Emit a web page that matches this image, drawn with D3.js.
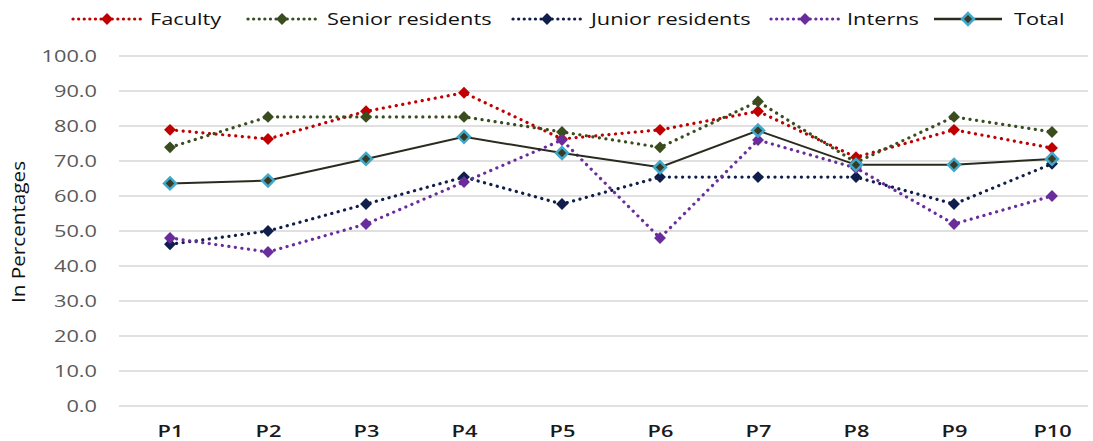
<!DOCTYPE html>
<html>
<head>
<meta charset="utf-8">
<script src="https://cdn.jsdelivr.net/npm/d3@7"></script>
<style>
  body { margin: 0; background: #fff; }
  svg { display: block; }
</style>
</head>
<body>
<div id="chart"></div>
<script>
const categories = ['P1', 'P2', 'P3', 'P4', 'P5', 'P6', 'P7', 'P8', 'P9', 'P10'];
const faculty = [78.9, 76.3, 84.2, 89.5, 76.3, 78.9, 84.2, 71.1, 78.9, 73.7];
const seniorResidents = [73.9, 82.6, 82.6, 82.6, 78.3, 73.9, 87.0, 69.6, 82.6, 78.3];
const juniorResidents = [46.2, 50.0, 57.7, 65.4, 57.7, 65.4, 65.4, 65.4, 57.7, 69.2];
const interns = [48.0, 44.0, 52.0, 64.0, 76.0, 48.0, 76.0, 68.0, 52.0, 60.0];
const total = [63.6, 64.4, 70.6, 76.9, 72.3, 68.2, 78.7, 68.9, 68.9, 70.6];
const yTicks = [0, 10, 20, 30, 40, 50, 60, 70, 80, 90, 100];

const series = [
  { name: 'Faculty', values: faculty, color: '#c00000', dotted: true },
  { name: 'Senior residents', values: seniorResidents, color: '#3a4d1f', dotted: true },
  { name: 'Junior residents', values: juniorResidents, color: '#0f1e4a', dotted: true },
  { name: 'Interns', values: interns, color: '#6a2c9c', dotted: true },
  { name: 'Total', values: total, color: '#2b2a1e', dotted: false, marker: '#3fa9c9' }
];

const W = 1093, H = 441;
const plot = { top: 56, bottom: 406 };
// the whole picture looks stretched sideways, so text gets a horizontal scale
const stretch = 1.28;
const font = '"Open Sans", sans-serif';

const svg = d3.select('#chart').append('svg')
    .attr('width', W)
    .attr('height', H);

const x = d3.scalePoint()
    .domain(categories)
    .range([170, 1052]);

const y = d3.scaleLinear()
    .domain([0, 100])
    .range([plot.bottom, plot.top]);

// gridlines
svg.append('g')
    .selectAll('line')
    .data(yTicks)
    .join('line')
    .attr('x1', 119)
    .attr('x2', 1088)
    .attr('y1', d => y(d))
    .attr('y2', d => y(d))
    .attr('stroke', '#d6d6d6')
    .attr('stroke-width', 1.5);

// y axis labels
const yAxis = d3.axisLeft(y)
    .tickValues(yTicks)
    .tickFormat(d3.format('.1f'))
    .tickSize(0)
    .tickPadding(0);

svg.append('g')
    .attr('transform', 'translate(97,0)')
    .call(yAxis)
    .call(g => g.select('.domain').remove())
    .selectAll('text')
    .attr('font-family', font)
    .attr('font-size', 17)
    .attr('fill', '#595959')
    .attr('transform', `scale(${stretch},1)`);

// x axis labels
const xAxis = d3.axisBottom(x).tickSize(0).tickPadding(0);
svg.append('g')
    .attr('transform', 'translate(0,425)')
    .call(xAxis)
    .call(g => g.select('.domain').remove())
    .selectAll('text')
    .attr('font-family', font)
    .attr('font-size', 17)
    .attr('font-weight', 600)
    .attr('fill', '#1a1a1a')
    .attr('transform', `scale(${stretch},1)`);

// y title
svg.append('text')
    .attr('transform', 'translate(25,232) rotate(-90) scale(1.15,1)')
    .attr('text-anchor', 'middle')
    .attr('font-family', font)
    .attr('font-size', 18)
    .attr('fill', '#111')
    .text('In Percentages');

const line = d3.line()
    .x((d, i) => x(categories[i]))
    .y(d => y(d));

const diamond = d3.symbol().type(d3.symbolDiamond2).size(90);

series.forEach(s => {
  const g = svg.append('g');
  g.append('path')
      .datum(s.values)
      .attr('d', line)
      .attr('fill', 'none')
      .attr('stroke', s.color)
      .attr('stroke-width', s.dotted ? 3.2 : 2)
      .attr('stroke-linecap', s.dotted ? 'round' : 'butt')
      .attr('stroke-dasharray', s.dotted ? '0.1,6.5' : null);
  g.selectAll('path.mk')
      .data(s.values)
      .join('path')
      .attr('class', 'mk')
      .attr('transform', (d, i) => `translate(${x(categories[i])},${y(d)})`)
      .attr('d', diamond)
      .attr('fill', s.marker ? '#3a3a26' : s.color)
      .attr('stroke', s.marker || 'none')
      .attr('stroke-width', s.marker ? 2.5 : 0);
});

// legend
const legendItems = [
  { s: series[0], x0: 73, tx: 150 },
  { s: series[1], x0: 248, tx: 327 },
  { s: series[2], x0: 513, tx: 591 },
  { s: series[3], x0: 771, tx: 847 },
  { s: series[4], x0: 934, tx: 1014 }
];
const ly = 19;
const leg = svg.append('g');
legendItems.forEach(it => {
  const s = it.s;
  leg.append('line')
      .attr('x1', it.x0)
      .attr('x2', it.x0 + 68)
      .attr('y1', ly)
      .attr('y2', ly)
      .attr('stroke', s.color)
      .attr('stroke-width', s.dotted ? 3.2 : 2.5)
      .attr('stroke-linecap', s.dotted ? 'round' : 'butt')
      .attr('stroke-dasharray', s.dotted ? '0.1,5.5' : null);
  leg.append('path')
      .attr('transform', `translate(${it.x0 + 34},${ly})`)
      .attr('d', diamond)
      .attr('fill', s.marker ? '#3a3a26' : s.color)
      .attr('stroke', s.marker || 'none')
      .attr('stroke-width', s.marker ? 2.5 : 0);
  leg.append('text')
      .attr('transform', `translate(${it.tx},${ly}) scale(${stretch},1)`)
      .attr('dy', '0.35em')
      .attr('font-family', font)
      .attr('font-size', 17)
      .attr('fill', '#111')
      .text(s.name);
});
</script>
</body>
</html>
